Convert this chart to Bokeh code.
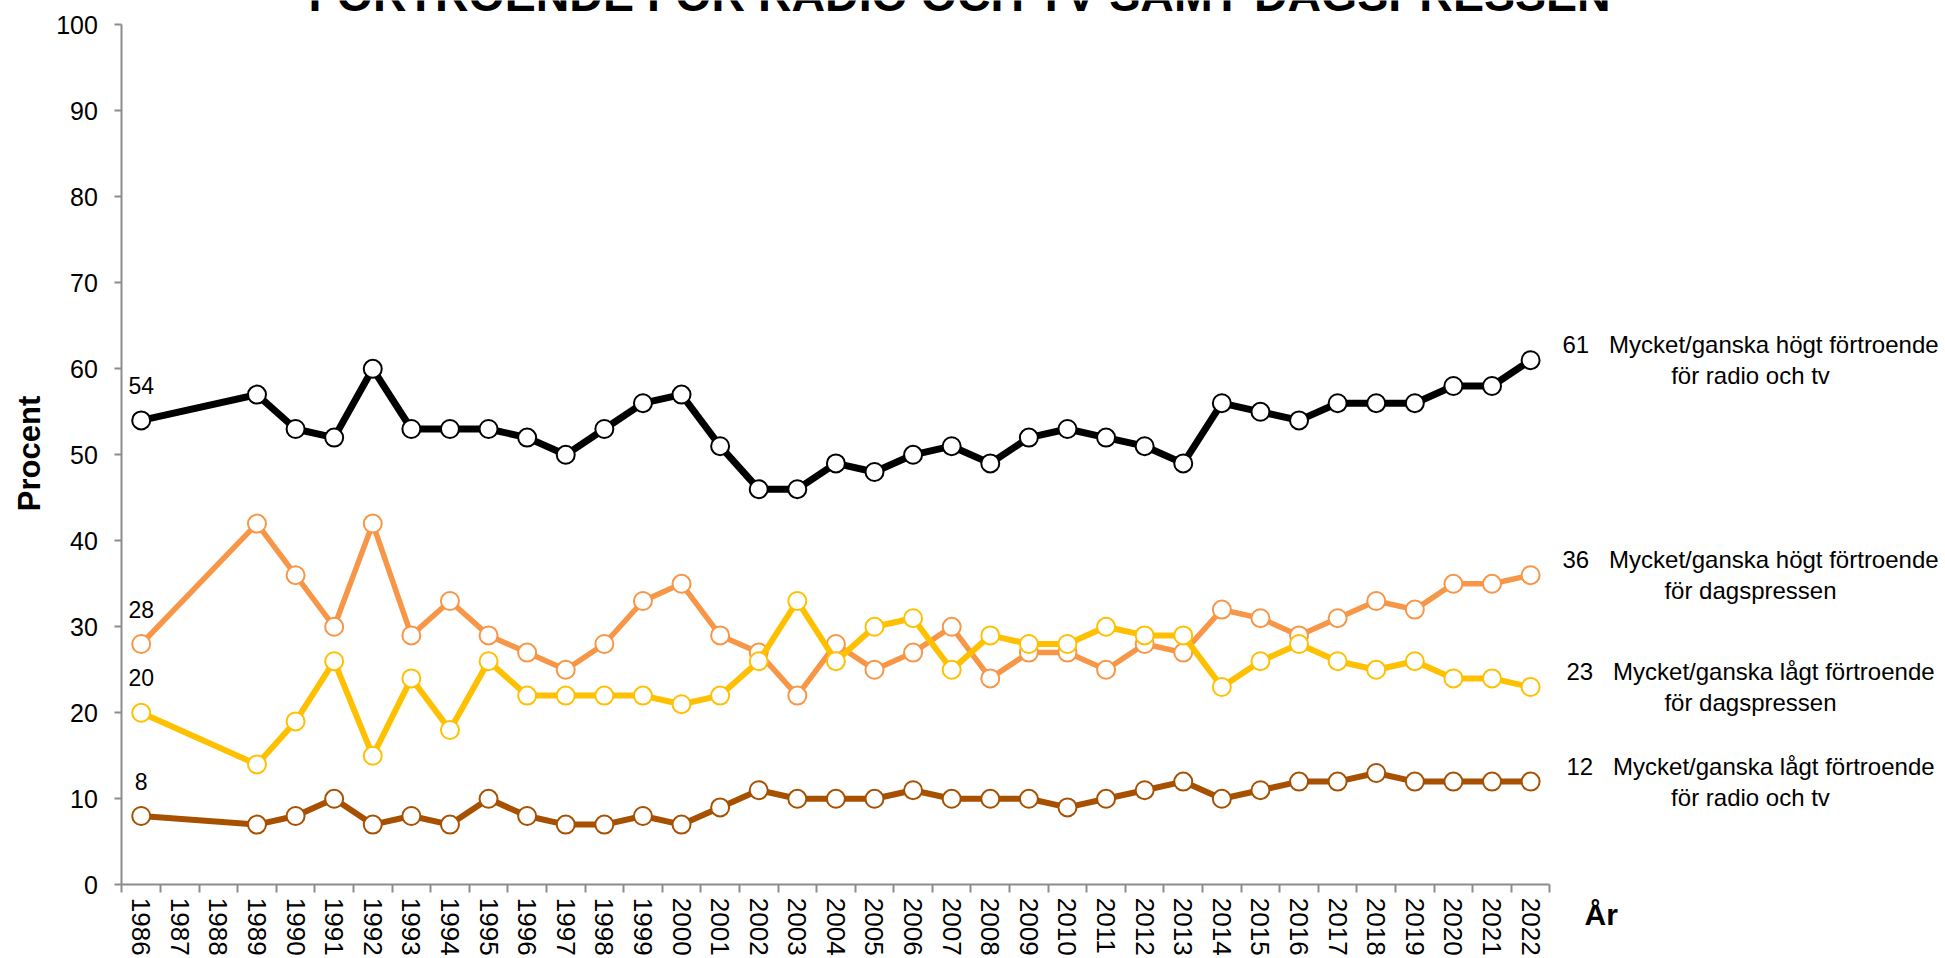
import math
from bokeh.plotting import figure
from bokeh.models import FixedTicker, CustomJSTickFormatter, Range1d, ColumnDataSource
from bokeh.embed import file_html
from bokeh.resources import INLINE
from bokeh.core.properties import value

# ---------------- data ----------------
categories = [str(y) for y in range(1986, 2023)]
years = [1986] + list(range(1989, 2023))

high_radio_tv = [54, 57, 53, 52, 60, 53, 53, 53, 52, 50, 53, 56, 57, 51, 46,
                 46, 49, 48, 50, 51, 49, 52, 53, 52, 51, 49, 56, 55, 54, 56,
                 56, 56, 58, 58, 61]
high_press = [28, 42, 36, 30, 42, 29, 33, 29, 27, 25, 28, 33, 35, 29, 27,
              22, 28, 25, 27, 30, 24, 27, 27, 25, 28, 27, 32, 31, 29, 31,
              33, 32, 35, 35, 36]
low_press = [20, 14, 19, 26, 15, 24, 18, 26, 22, 22, 22, 22, 21, 22, 26,
             33, 26, 30, 31, 25, 29, 28, 28, 30, 29, 29, 23, 26, 28, 26,
             25, 26, 24, 24, 23]
low_radio_tv = [8, 7, 8, 10, 7, 8, 7, 10, 8, 7, 7, 8, 7, 9, 11,
                10, 10, 10, 11, 10, 10, 10, 9, 10, 11, 12, 10, 11, 12, 12,
                13, 12, 12, 12, 12]

series_names = [
    "Mycket/ganska högt förtroende\nför radio och tv",
    "Mycket/ganska lågt förtroende\nför radio och tv",
    "Mycket/ganska högt förtroende\nför dagspressen",
    "Mycket/ganska lågt förtroende\nför dagspressen",
]
series_values = [high_radio_tv, low_radio_tv, high_press, low_press]
series_colors = ["#000000", "#A65000", "#F79646", "#FFC000"]
series_widths = [7, 6, 5.5, 6]

title_text = "FÖRTROENDE FÖR RADIO OCH TV SAMT DAGSPRESSEN"
x_title = "År"
y_title = "Procent"
y_ticks = list(range(0, 101, 10))

FONT = "Liberation Sans"
AXIS_GREY = "#8c8c8c"

# ---------------- geometry (pixels) ----------------
W, H = 1940, 955
LEFT = 121.4                    # y axis position
N = len(categories)
PX_X = 1428 / N                 # pixels per category
Y0_PX, Y100_PX = 884.3, 24.3    # pixel rows of 0 and 100
PX_Y = (Y0_PX - Y100_PX) / 100


def px_to_x(px):
    return (px - LEFT) / PX_X


def px_to_y(py):
    return (Y0_PX - py) / PX_Y


p = figure(width=W, height=H, title=None,
           x_range=Range1d(px_to_x(0), px_to_x(W)),
           y_range=Range1d(px_to_y(H), px_to_y(0)),
           output_backend="svg", toolbar_location=None,
           min_border_left=0, min_border_right=0,
           min_border_top=0, min_border_bottom=0)
p.outline_line_color = None
p.xgrid.visible = False
p.ygrid.visible = False
p.background_fill_color = "white"
p.border_fill_color = "white"

xs = [categories.index(str(y)) + 0.5 for y in years]

# y axis (drawn at x = 0 inside the full-canvas frame)
yax = p.yaxis[0]
yax.fixed_location = 0
yax.bounds = (0, 100)
yax.ticker = FixedTicker(ticks=y_ticks)
yax.axis_line_color = AXIS_GREY
yax.axis_line_width = 2
yax.major_tick_line_color = AXIS_GREY
yax.major_tick_line_width = 2
yax.major_tick_out = 7
yax.major_tick_in = 0
yax.minor_tick_line_color = None
yax.major_label_text_font = FONT
yax.major_label_text_font_size = "25px"
yax.major_label_text_color = "black"
yax.major_label_standoff = 17

# x axis (drawn at y = 0)
xax = p.xaxis[0]
xax.fixed_location = 0
xax.bounds = (0, N)
xax.ticker = FixedTicker(ticks=[i + 0.5 for i in range(N)],
                         minor_ticks=list(range(N + 1)))
xax.formatter = CustomJSTickFormatter(args=dict(labels=categories),
                                      code="return labels[Math.floor(tick)];")
xax.axis_line_color = AXIS_GREY
xax.axis_line_width = 2
xax.major_tick_line_color = None
xax.major_tick_out = 0
xax.major_tick_in = 0
xax.minor_tick_line_color = AXIS_GREY
xax.minor_tick_line_width = 2
xax.minor_tick_out = 8
xax.minor_tick_in = 0
xax.major_label_orientation = "vertical"
xax.major_label_text_font = FONT
xax.major_label_text_font_size = "26px"
xax.major_label_text_color = "black"
xax.major_label_standoff = 5

# series
for i in range(4):
    vals = series_values[i]
    col = series_colors[i]
    p.line(xs, vals, line_color=col, line_width=series_widths[i], line_join="round")
    p.scatter(xs, vals, marker="circle", size=18, fill_color="white",
              line_color=col, line_width=2)

# first-point labels
first_src = ColumnDataSource(dict(x=[xs[0]] * 4,
                                  y=[v[0] for v in series_values],
                                  t=[str(v[0]) for v in series_values]))
p.text(x="x", y="y", text="t", source=first_src, y_offset=-35,
       text_align="center", text_baseline="alphabetic",
       text_font=value(FONT), text_font_size="23px", text_color="black")

# right-hand series labels
right_src = ColumnDataSource(dict(
    x=[px_to_x(1750)] * 4,
    y=[v[-1] for v in series_values],
    t=[f"{v[-1]}\u00a0\u00a0\u00a0" + n for v, n in zip(series_values, series_names)]))
p.text(x="x", y="y", text="t", source=right_src,
       text_align="center", text_baseline="middle", text_line_height=1.15,
       text_font=value(FONT), text_font_size="24px", text_color="black")

# chart title (cut at the top edge, as in the reference)
p.text(x=[px_to_x(959)], y=[px_to_y(-6)], text=[title_text],
       text_align="center", text_baseline="alphabetic",
       text_font=value(FONT), text_font_style="bold", text_font_size="46.5px",
       text_color="black")

# axis titles
p.text(x=[px_to_x(1584)], y=[px_to_y(914)], text=[x_title],
       text_align="left", text_baseline="alphabetic",
       text_font=value(FONT), text_font_style="bold", text_font_size="30px",
       text_color="black")
p.text(x=[px_to_x(29)], y=[px_to_y(453)], text=[y_title], angle=math.pi / 2,
       text_align="center", text_baseline="middle",
       text_font=value(FONT), text_font_style="bold", text_font_size="31px",
       text_color="black")

open("out.html", "w").write(file_html(p, INLINE))
